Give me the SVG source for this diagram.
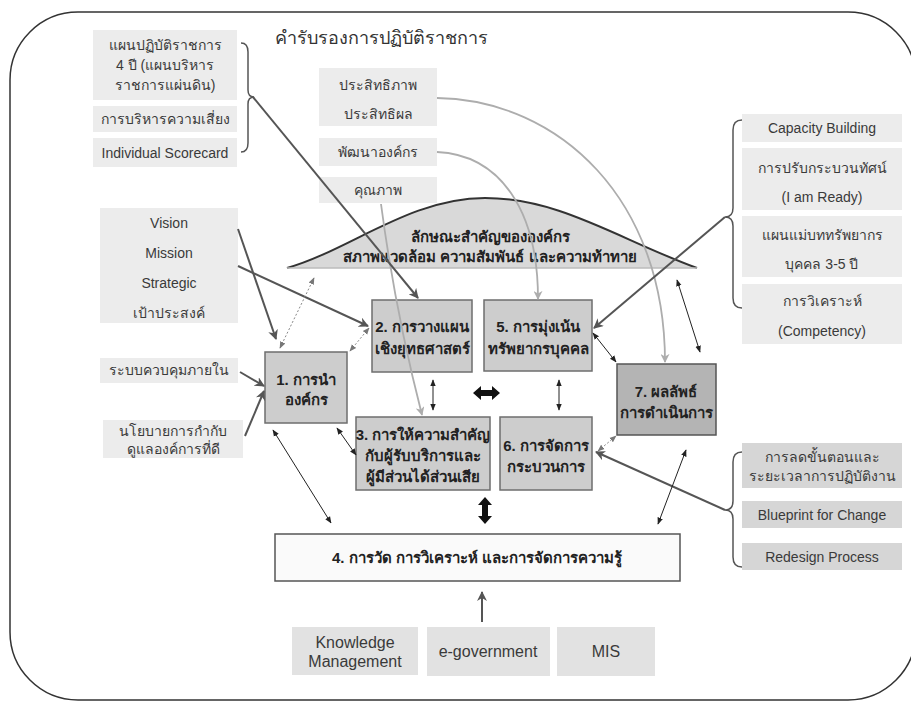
<svg xmlns="http://www.w3.org/2000/svg" width="911" height="705" viewBox="0 0 911 705">
<defs>
<style>
.lb{fill:#ececec}
.lb2{fill:#e2e2e2}
.lb3{fill:#d6d6d6}
.cb{fill:#cdcdcd;stroke:#6e6e6e;stroke-width:1.5}
.cb7{fill:#b4b4b4;stroke:#555;stroke-width:1.5}
.t{font-family:"Liberation Sans","Noto Sans",sans-serif;font-size:14px;fill:#3a3a3a;text-anchor:middle}
.tb{font-family:"Liberation Sans","Noto Sans",sans-serif;font-size:15px;font-weight:bold;fill:#222;text-anchor:middle}
.big{font-size:16px}
.dark{fill:none;stroke:#555;stroke-width:2}
.light{fill:none;stroke:#adadad;stroke-width:1.8}
.thin{fill:none;stroke:#222;stroke-width:1}
.dot{fill:none;stroke:#888;stroke-width:1;stroke-dasharray:2 2}
.brace{fill:none;stroke:#555;stroke-width:1.5}
</style>
<marker id="ad" viewBox="0 0 10 10" refX="9" refY="5" markerWidth="5" markerHeight="5" orient="auto"><path d="M0,0 L10,5 L0,10 L3,5 Z" fill="#555"/></marker>
<marker id="al" viewBox="0 0 10 10" refX="9" refY="5" markerWidth="5" markerHeight="5" orient="auto"><path d="M0,0 L10,5 L0,10 L3,5 Z" fill="#adadad"/></marker>
<marker id="at" viewBox="0 0 10 10" refX="9" refY="5" markerWidth="7" markerHeight="7" orient="auto-start-reverse"><path d="M0,1 L10,5 L0,9 Z" fill="#222"/></marker>
<marker id="ag" viewBox="0 0 10 10" refX="9" refY="5" markerWidth="7" markerHeight="7" orient="auto-start-reverse"><path d="M0,1 L10,5 L0,9 Z" fill="#777"/></marker>
</defs>
<rect x="0" y="0" width="911" height="705" fill="#fff"/>
<rect id="frame" x="10" y="12" width="906" height="688" rx="68" fill="none" stroke="#333" stroke-width="1.5"/>
<text x="275" y="44" style="font-family:'Liberation Sans','Noto Sans',sans-serif;font-size:18px;fill:#333">คำรับรองการปฏิบัติราชการ</text>

<g id="arch">
<path d="M287,268 C350,250 410,198 485,198 C560,198 620,240 697,268 Z" fill="#d9d9d9" stroke="none"/>
<path d="M287,268 C350,250 410,198 485,198 C560,198 620,240 697,268" fill="none" stroke="#333" stroke-width="2"/>
<line x1="287" y1="268" x2="697" y2="268" stroke="#bbb" stroke-width="1.5"/>
<text class="tb" x="490" y="242">ลักษณะสำคัญขององค์กร</text>
<text class="tb" x="490" y="262">สภาพแวดล้อม ความสัมพันธ์  และความท้าทาย</text>
</g>

<g id="plan4">
<rect class="lb" x="93" y="30" width="144" height="70"/>
<text class="t" x="165" y="50">แผนปฏิบัติราชการ</text>
<text class="t" x="165" y="70">4 ปี (แผนบริหาร</text>
<text class="t" x="165" y="90">ราชการแผ่นดิน)</text>
</g>
<g id="risk"><rect class="lb" x="93" y="106" width="144" height="26"/><text class="t" x="165" y="124">การบริหารความเสี่ยง</text></g>
<g id="scorecard"><rect class="lb" x="93" y="138" width="144" height="29"/><text class="t" x="165" y="158">Individual Scorecard</text></g>

<g id="efficiency"><rect class="lb" x="319" y="68" width="118" height="58"/><text class="t" x="378" y="90">ประสิทธิภาพ</text><text class="t" x="378" y="119">ประสิทธิผล</text></g>
<g id="orgdev"><rect class="lb" x="319" y="138" width="118" height="28"/><text class="t" x="378" y="157">พัฒนาองค์กร</text></g>
<g id="quality"><rect class="lb" x="319" y="177" width="118" height="26"/><text class="t" x="378" y="195">คุณภาพ</text></g>

<g id="vision">
<rect class="lb" x="100" y="208" width="138" height="115"/>
<text class="t" x="169" y="228">Vision</text>
<text class="t" x="169" y="258">Mission</text>
<text class="t" x="169" y="288">Strategic</text>
<text class="t" x="169" y="318">เป้าประสงค์</text>
</g>
<g id="control"><rect class="lb" x="100" y="358" width="138" height="25"/><text class="t" x="169" y="375">ระบบควบคุมภายใน</text></g>
<g id="governance"><rect class="lb" x="103" y="420" width="140" height="38"/><text class="t" x="173" y="436">นโยบายการกำกับ</text><text class="t" x="173" y="454">ดูแลองค์การที่ดี</text></g>

<g id="capacity"><rect class="lb" x="742" y="114" width="160" height="28"/><text class="t" x="822" y="133">Capacity Building</text></g>
<g id="paradigm"><rect class="lb" x="742" y="148" width="160" height="62"/><text class="t" x="822" y="173">การปรับกระบวนทัศน์</text><text class="t" x="822" y="202">(I am Ready)</text></g>
<g id="hrplan"><rect class="lb" x="742" y="216" width="160" height="61"/><text class="t" x="822" y="240">แผนแม่บททรัพยากร</text><text class="t" x="822" y="269">บุคคล 3-5 ปี</text></g>
<g id="competency"><rect class="lb" x="742" y="284" width="160" height="60"/><text class="t" x="822" y="306">การวิเคราะห์</text><text class="t" x="822" y="336">(Competency)</text></g>

<g id="reduce"><rect class="lb3" x="742" y="443" width="160" height="45"/><text class="t" x="822" y="462">การลดขั้นตอนและ</text><text class="t" x="822" y="481">ระยะเวลาการปฏิบัติงาน</text></g>
<g id="blueprint"><rect class="lb3" x="742" y="501" width="160" height="27"/><text class="t" x="822" y="520">Blueprint for Change</text></g>
<g id="redesign"><rect class="lb3" x="742" y="543" width="160" height="27"/><text class="t" x="822" y="562">Redesign Process</text></g>

<g id="km"><rect class="lb2" x="292" y="627" width="126" height="48"/><text class="t big" x="355" y="648">Knowledge</text><text class="t big" x="355" y="667">Management</text></g>
<g id="egov"><rect class="lb2" x="427" y="627" width="123" height="49"/><text class="t big" x="488" y="657">e-government</text></g>
<g id="mis"><rect class="lb2" x="557" y="627" width="98" height="49"/><text class="t big" x="606" y="657">MIS</text></g>

<g id="n1"><rect class="cb" x="265" y="352" width="82" height="71"/><text class="tb" x="306" y="385">1. การนำ</text><text class="tb" x="306" y="405">องค์กร</text></g>
<g id="n2"><rect class="cb" x="372" y="300" width="100" height="72"/><text class="tb" x="422" y="332">2. การวางแผน</text><text class="tb" x="422" y="354">เชิงยุทธศาสตร์</text></g>
<g id="n5"><rect class="cb" x="484" y="300" width="108" height="71"/><text class="tb" x="538" y="332">5. การมุ่งเน้น</text><text class="tb" x="538" y="354">ทรัพยากรบุคคล</text></g>
<g id="n3"><rect class="cb" x="356" y="417" width="134" height="73"/><text class="tb" x="423" y="440">3. การให้ความสำคัญ</text><text class="tb" x="423" y="461">กับผู้รับบริการและ</text><text class="tb" x="423" y="482">ผู้มีส่วนได้ส่วนเสีย</text></g>
<g id="n6"><rect class="cb" x="500" y="417" width="92" height="73"/><text class="tb" x="546" y="451">6. การจัดการ</text><text class="tb" x="546" y="472">กระบวนการ</text></g>
<g id="n7"><rect class="cb7" x="617" y="364" width="99" height="71"/><text class="tb" x="666" y="397">7. ผลลัพธ์</text><text class="tb" x="666" y="418">การดำเนินการ</text></g>
<g id="n4"><rect x="275" y="534" width="405" height="47" fill="#fafafa" stroke="#555" stroke-width="1.5"/><text class="tb" x="477" y="563">4. การวัด การวิเคราะห์ และการจัดการความรู้</text></g>

<g id="connectors">
<path class="brace" d="M241,43 Q248,43 248,52 L248,90 Q248,97 254,97 Q248,97 248,104 L248,143 Q248,152 241,152"/>
<path class="brace" d="M742,120 Q733,120 733,130 L733,208 Q733,217 725,217 Q733,217 733,226 L733,298 Q733,308 742,308"/>
<path class="brace" d="M742,452 Q733,452 733,462 L733,501 Q733,510 725,510 Q733,510 733,519 L733,557 Q733,567 742,567"/>

<path class="light" d="M437,98 C560,100 665,200 665,362" marker-end="url(#al)"/>
<path class="light" d="M437,152 C500,155 538,210 538,299" marker-end="url(#al)"/>
<path class="light" d="M381,204 Q395,310 422,415" marker-end="url(#al)"/>

<line class="dark" x1="253" y1="97" x2="418" y2="298" marker-end="url(#ad)"/>
<line class="dark" x1="238" y1="229" x2="276" y2="339" marker-end="url(#ad)"/>
<line class="dark" x1="238" y1="266" x2="368" y2="326" marker-end="url(#ad)"/>
<line class="dark" x1="240" y1="372" x2="264" y2="386" marker-end="url(#ad)"/>
<line class="dark" x1="245" y1="436" x2="264" y2="391" marker-end="url(#ad)"/>
<line class="dark" x1="725" y1="217" x2="594" y2="328" marker-end="url(#ad)"/>
<line class="dark" x1="725" y1="510" x2="596" y2="452" marker-end="url(#ad)"/>
<line class="dark" x1="482" y1="622" x2="482" y2="592" marker-end="url(#ad)"/>

<line class="dot" x1="280" y1="348" x2="314" y2="278" marker-start="url(#ag)" marker-end="url(#ag)"/>
<line class="dot" x1="350" y1="351" x2="369" y2="328" marker-start="url(#ag)" marker-end="url(#ag)"/>
<line class="dot" x1="598" y1="451" x2="616" y2="436" marker-start="url(#ag)" marker-end="url(#ag)"/>
<line class="thin" x1="433" y1="380" x2="433" y2="410" marker-start="url(#at)" marker-end="url(#at)"/>
<line class="thin" x1="559" y1="380" x2="559" y2="410" marker-start="url(#at)" marker-end="url(#at)"/>
<line class="thin" x1="337" y1="428" x2="356" y2="455" stroke-width="1.5" marker-start="url(#at)" marker-end="url(#at)"/>
<line class="thin" x1="273" y1="430" x2="331" y2="523" marker-start="url(#at)" marker-end="url(#at)"/>
<line class="thin" x1="593" y1="333" x2="616" y2="362" marker-start="url(#at)" marker-end="url(#at)"/>
<line class="thin" x1="677" y1="280" x2="700" y2="352" marker-start="url(#at)" marker-end="url(#at)"/>
<line class="thin" x1="686" y1="450" x2="658" y2="524" marker-start="url(#at)" marker-end="url(#at)"/>

<polygon points="473,393 481,386 481,390 492,390 492,386 500,393 492,400 492,396 481,396 481,400" fill="#111"/>
<polygon points="485,497 492,505 488,505 488,516 492,516 485,524 478,516 482,516 482,505 478,505" fill="#111"/>
</g>
</svg>
